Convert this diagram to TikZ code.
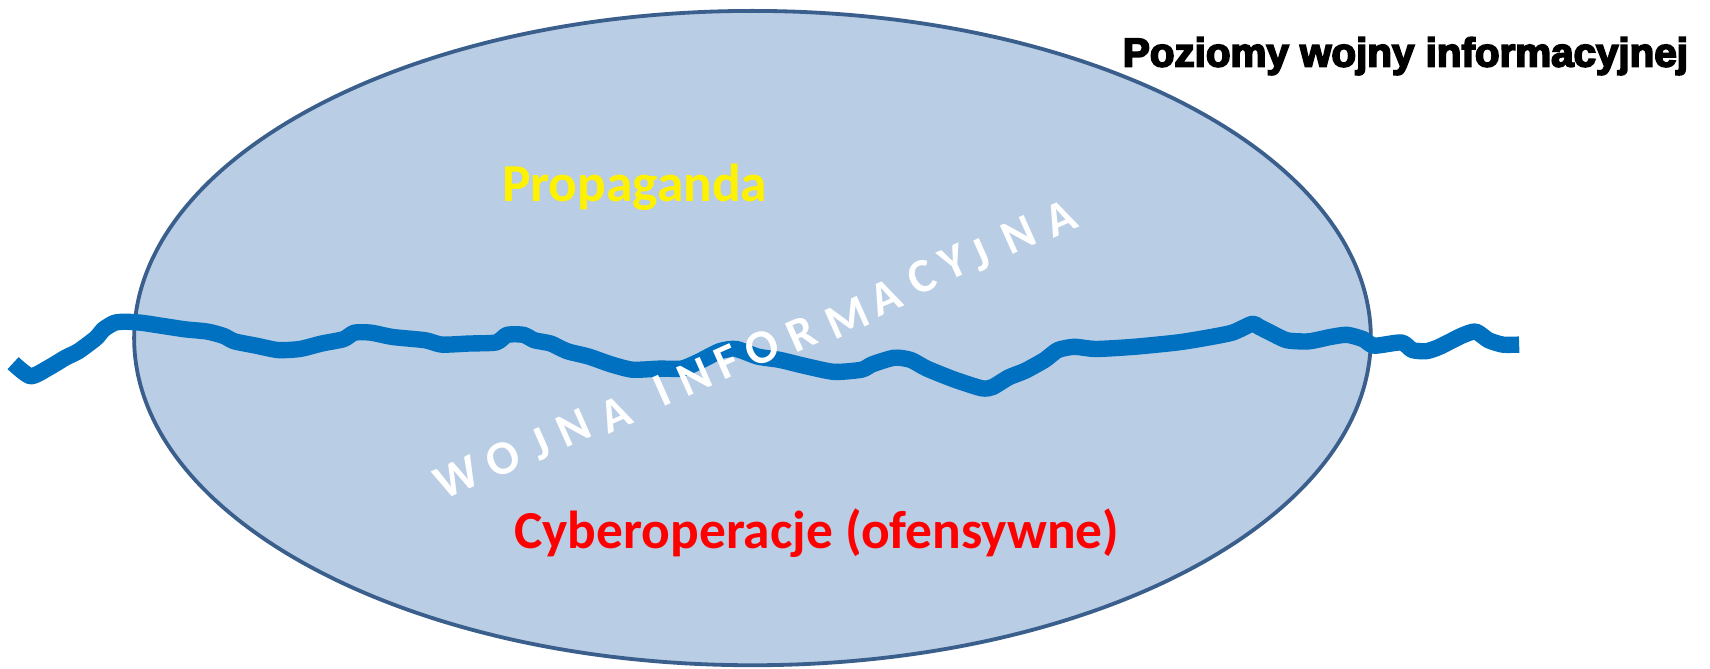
\documentclass[tikz,border=0pt]{standalone}
\usepackage{fontspec}
\setmainfont{Carlito}
\newfontfamily\titlefont[FakeBold=4.5]{Liberation Sans Bold}
\definecolor{ellfill}{HTML}{B9CDE5}
\definecolor{elldraw}{HTML}{3A5F8C}
\definecolor{wave}{HTML}{0070C0}
\begin{document}
\begin{tikzpicture}[x=1pt,y=-1pt,
  lbl/.style={inner sep=0pt, font=\bfseries\fontsize{49}{55}\selectfont},
  wordart/.style={inner sep=0pt, text=white, rotate=24, font=\bfseries\fontsize{44}{48}\selectfont},
  wavestyle/.style={draw=wave, line width=15pt, line join=round, line cap=butt}]
\useasboundingbox (0,0) rectangle (1568,613);
\fill[white] (0,0) rectangle (1568,613);
\draw[fill=ellfill, draw=elldraw, line width=3.5pt] (690,310) ellipse [x radius=567, y radius=300];
\draw[wavestyle] plot[smooth, tension=0.4] coordinates {
(12,333) (28,345) (45,337) (60,328) (72,322) (88,310) (95,302) (105,296) (115,295)
(130,296) (150,299) (170,302) (190,304) (205,308) (215,313) (235,317) (255,321)
(275,320) (295,315) (315,311) (325,305) (340,305) (360,309) (390,312) (405,316)
(430,315) (455,314) (465,307) (480,307) (490,312) (505,315) (520,322) (540,327)
(560,334) (580,339) (605,338) (625,338) (640,332) (660,322) (675,320) (695,327)
(715,330) (740,336) (765,341) (790,339) (800,334) (820,328) (835,330) (850,338)
(875,348) (900,356) (910,355) (925,346) (940,340) (958,330) (970,321) (985,318)
(1005,320) (1040,318) (1080,314) (1105,310) (1130,305) (1148,297) (1155,300)
(1165,305) (1180,312) (1200,313) (1220,309) (1235,307) (1250,311) (1260,317)
(1285,314) (1295,321) (1308,322) (1320,318) (1340,308) (1353,304) (1365,312)
(1378,316) (1393,316)};
\node[lbl, text=yellow, anchor=base] (prop) at (582,185) {Propaganda};
\node[lbl, text=red, anchor=base] (cyber) at (749,503) {Cyberoperacje (ofensywne)};
\node[inner sep=0pt, anchor=base east, font=\titlefont\fontsize{37}{40}\selectfont] (title) at (1548,61) {Poziomy wojny informacyjnej};
\foreach \ch/\px/\py [count=\i] in {W/419/438, O/461/421, J/496/407, N/526/392, A/564/380,
  I/607/358, N/637/346, F/667/332, O/699/319, R/735/306, M/777/291, A/812/273,
  C/845/254, Y/874/240, J/899/234, N/934/215, A/972/200}
  \node[wordart] (w\i) at (\px,\py) {\ch};
\end{tikzpicture}
\end{document}
